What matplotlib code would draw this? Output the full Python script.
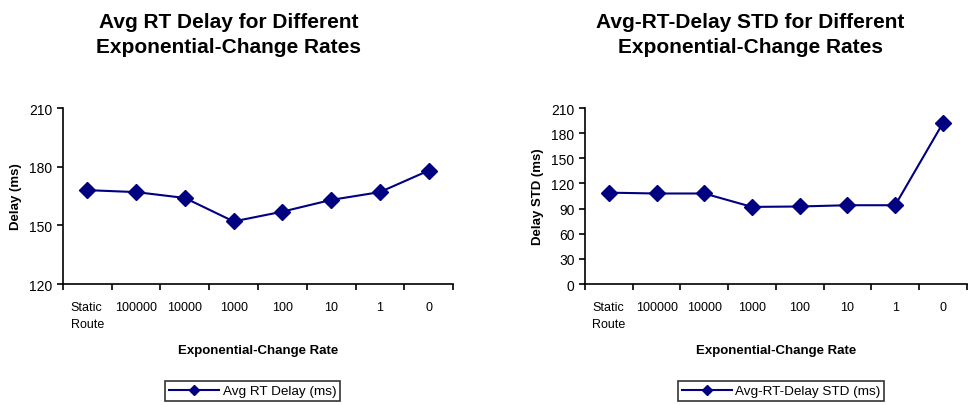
import numpy as np
import matplotlib.pyplot as plt

plt.rcParams['font.family'] = ['Liberation Sans', 'DejaVu Sans']

categories = ['Static\nRoute', '100000', '10000', '1000', '100', '10', '1', '0']
avg_delay = [168, 167, 164, 152, 157, 163, 167, 178]
delay_std = [109, 108, 108, 92, 92.5, 94, 94, 192]

navy = '#000080'

fig = plt.figure(figsize=(9.69, 4.06), dpi=100)
ax1 = fig.add_axes([0.065, 0.298, 0.4025, 0.4335])
ax2 = fig.add_axes([0.6037, 0.298, 0.394, 0.4335])

panels = [
    (ax1, avg_delay, 'Avg RT Delay (ms)', 'Delay (ms)',
     'Avg RT Delay for Different\nExponential-Change Rates', (120, 210),
     np.arange(120, 211, 30), 0.236, 0.261),
    (ax2, delay_std, 'Avg-RT-Delay STD (ms)', 'Delay STD (ms)',
     'Avg-RT-Delay STD for Different\nExponential-Change Rates', (0, 210),
     np.arange(0, 211, 30), 0.774, 0.806),
]

x = np.arange(len(categories))
for ax, vals, lab, ylab, title, ylim, yt, tx, lx in panels:
    ax.plot(x, vals, color=navy, lw=1.5, marker='D', ms=8, label=lab)
    ax.set_xlim(-0.5, len(categories) - 0.5)
    ax.set_ylim(*ylim)
    ax.set_yticks(yt)
    ax.set_xticks(x)
    ax.set_xticklabels(categories, fontsize=9, multialignment='left', va='top',
                       linespacing=1.6)
    ax.set_xticks(np.arange(-0.5, len(categories), 1), minor=True)
    ax.tick_params(axis='x', which='major', length=0, pad=12)
    ax.tick_params(axis='x', which='minor', length=4, width=1.2, direction='out')
    ax.tick_params(axis='y', labelsize=10, length=4, width=1.2, direction='out')
    for s in ['top', 'right']:
        ax.spines[s].set_visible(False)
    for s in ['left', 'bottom']:
        ax.spines[s].set_linewidth(1.2)
    ax.set_ylabel(ylab, fontsize=9.5, fontweight='bold', labelpad=5)
    ax.set_xlabel('Exponential-Change Rate', fontsize=9.5, fontweight='bold', labelpad=10)
    fig.text(tx, 0.914, title, fontsize=15, fontweight='bold', ha='center', va='center',
             linespacing=1.4)
    leg = ax.legend(loc='center', bbox_to_anchor=(lx, 0.034), bbox_transform=fig.transFigure,
                    fontsize=9.7, frameon=True, fancybox=False, edgecolor='black',
                    markerscale=0.7, handlelength=3.7, handletextpad=0.25, borderpad=0.3)
    leg.get_frame().set_linewidth(1.2)

fig.savefig('out.png', dpi=100)
